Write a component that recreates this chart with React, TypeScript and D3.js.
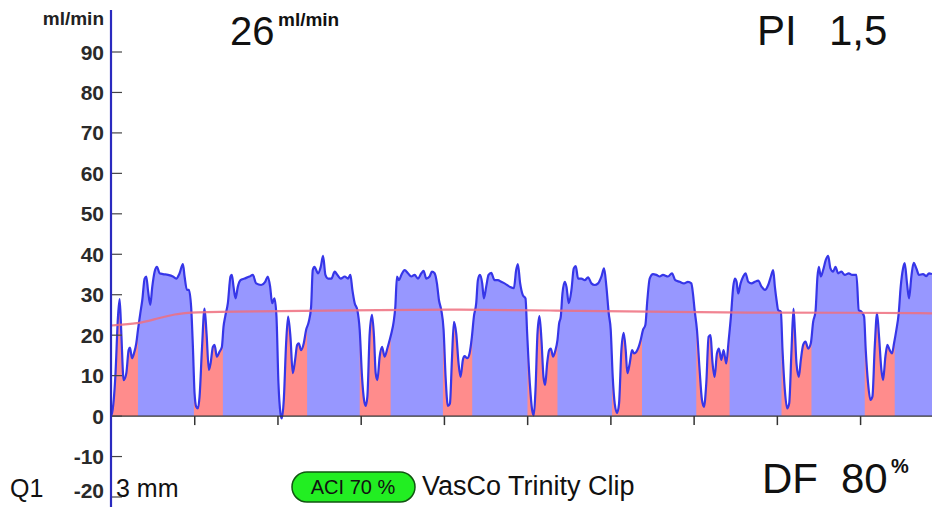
import * as d3 from "d3";
import React from "react";

// flow samples: [time ms, ml/min]
const flowSeries: [number, number][] = [
  [0, 0.3], [3, 0.7], [23, 9.7], [39, 24.6], [49, 28.9], [59, 20.4], [73, 8.9], [89, 10.6], [103, 16.3], [111, 16.9],
  [123, 14.3], [135, 15.5], [149, 18.0], [159, 21.3], [173, 25.4], [185, 28.7], [199, 34.0], [209, 34.5], [219, 31.2],
  [233, 27.5], [245, 32.0], [259, 35.7], [273, 36.9], [289, 35.3], [309, 35.1], [339, 34.9], [369, 34.5], [389, 34.0],
  [409, 35.3], [429, 37.6], [439, 34.5], [453, 31.2], [465, 31.2], [479, 26.6], [489, 17.1], [499, 5.6], [509, 2.3],
  [519, 1.9], [529, 4.8], [543, 16.3], [559, 26.6], [571, 20.4], [585, 11.4], [595, 13.0], [609, 17.1], [619, 17.6],
  [633, 14.7], [649, 15.9], [663, 17.1], [673, 22.1], [683, 24.6], [699, 27.9], [715, 34.5], [723, 34.9], [733, 32.0],
  [745, 29.1], [759, 32.0], [775, 33.6], [799, 34.0], [829, 34.5], [849, 34.9], [869, 32.8], [899, 32.4], [923, 33.2],
  [939, 34.5], [953, 32.0], [965, 27.9], [979, 29.1], [991, 24.6], [1003, 8.1], [1015, 0.7], [1023, -0.6], [1035, 4.0],
  [1049, 18.0], [1061, 24.6], [1075, 19.6], [1089, 10.6], [1103, 13.9], [1115, 17.6], [1125, 18.0], [1139, 16.3],
  [1155, 18.0], [1169, 21.3], [1185, 23.3], [1199, 27.0], [1209, 36.1], [1219, 36.9], [1241, 35.3], [1257, 36.9],
  [1271, 39.6], [1285, 34.9], [1301, 34.0], [1321, 34.0], [1341, 35.7], [1357, 34.9], [1377, 34.0], [1401, 34.5],
  [1421, 34.0], [1435, 34.9], [1447, 31.2], [1461, 27.9], [1477, 26.2], [1491, 21.3], [1505, 9.7], [1517, 4.0],
  [1527, 2.5], [1537, 4.8], [1551, 20.4], [1565, 25.0], [1577, 19.6], [1587, 10.6], [1597, 8.9], [1611, 14.7],
  [1625, 17.1], [1641, 14.7], [1657, 16.7], [1671, 18.8], [1681, 20.4], [1695, 23.3], [1705, 27.0], [1715, 34.5],
  [1727, 33.6], [1741, 34.9], [1761, 36.1], [1781, 35.3], [1801, 34.5], [1821, 34.9], [1841, 34.0], [1861, 35.3],
  [1875, 35.9], [1891, 34.0], [1911, 34.5], [1925, 35.7], [1941, 35.3], [1955, 32.8], [1967, 28.7], [1981, 26.2],
  [1995, 21.3], [2007, 9.7], [2021, 2.5], [2033, 3.1], [2045, 13.9], [2057, 23.3], [2071, 20.4], [2085, 13.0],
  [2097, 9.7], [2111, 13.9], [2121, 14.8], [2137, 14.3], [2151, 15.5], [2165, 19.6], [2177, 24.6], [2191, 27.9],
  [2201, 33.6], [2213, 34.9], [2227, 32.8], [2237, 29.1], [2251, 32.0], [2265, 34.9], [2281, 35.4], [2301, 33.6],
  [2321, 33.6], [2341, 33.2], [2361, 32.8], [2391, 32.0], [2417, 31.6], [2431, 36.1], [2441, 37.6], [2455, 32.8],
  [2471, 29.9], [2487, 29.1], [2497, 20.4], [2513, 8.1], [2527, 1.5], [2537, 0.2], [2547, 6.4], [2559, 20.4],
  [2571, 24.7], [2583, 18.8], [2595, 9.7], [2605, 7.7], [2617, 13.0], [2629, 16.3], [2639, 16.7], [2653, 14.7],
  [2667, 16.3], [2679, 18.8], [2689, 22.9], [2699, 24.6], [2709, 30.3], [2723, 33.2], [2733, 32.0], [2747, 27.9],
  [2763, 31.2], [2777, 36.5], [2789, 37.1], [2803, 34.0], [2823, 34.0], [2843, 33.6], [2863, 34.3], [2883, 32.8],
  [2903, 32.4], [2923, 32.8], [2943, 34.5], [2959, 36.5], [2973, 32.0], [2987, 25.4], [2999, 21.3], [3011, 9.7],
  [3023, 3.1], [3037, 0.8], [3049, 3.1], [3063, 16.3], [3077, 20.6], [3089, 16.3], [3099, 10.6], [3113, 13.0],
  [3127, 16.3], [3139, 15.5], [3153, 15.9], [3167, 17.1], [3179, 18.8], [3193, 21.3], [3207, 22.5], [3219, 28.7],
  [3233, 34.0], [3253, 35.1], [3273, 34.9], [3293, 34.5], [3313, 34.9], [3343, 34.5], [3367, 35.3], [3387, 33.6],
  [3413, 33.2], [3439, 32.8], [3463, 33.2], [3483, 32.8], [3493, 30.3], [3503, 26.2], [3517, 21.3], [3533, 11.4],
  [3547, 4.0], [3559, 2.3], [3573, 8.1], [3587, 19.6], [3599, 20.0], [3609, 13.9], [3623, 9.7], [3637, 15.5],
  [3649, 16.7], [3663, 13.9], [3677, 16.3], [3693, 13.0], [3707, 18.5], [3721, 24.6], [3735, 32.0], [3745, 34.0],
  [3755, 33.2], [3765, 30.3], [3779, 32.8], [3795, 34.5], [3809, 35.3], [3825, 33.2], [3845, 32.8], [3865, 33.2],
  [3885, 33.5], [3905, 32.0], [3925, 31.2], [3945, 32.4], [3961, 34.5], [3975, 36.1], [3985, 32.0], [3995, 28.7],
  [4005, 26.2], [4021, 25.8], [4031, 16.3], [4045, 6.4], [4059, 1.9], [4071, 3.1], [4085, 16.3], [4097, 26.6],
  [4105, 21.3], [4115, 13.0], [4129, 9.7], [4141, 13.9], [4155, 17.6], [4169, 18.4], [4185, 16.7], [4201, 18.0],
  [4215, 23.3], [4229, 25.8], [4241, 34.5], [4249, 36.9], [4261, 34.5], [4275, 36.1], [4291, 38.6], [4305, 39.6],
  [4319, 36.5], [4335, 35.7], [4349, 36.9], [4365, 35.3], [4385, 35.7], [4405, 34.9], [4429, 35.3], [4449, 34.9],
  [4475, 34.9], [4489, 26.2], [4505, 25.8], [4521, 24.6], [4531, 16.3], [4545, 8.1], [4559, 4.0], [4571, 4.8],
  [4585, 17.1], [4599, 25.4], [4611, 19.6], [4625, 11.4], [4635, 8.9], [4649, 14.7], [4661, 17.6], [4675, 16.3],
  [4689, 15.5], [4701, 18.0], [4715, 21.3], [4729, 25.4], [4741, 32.0], [4755, 36.5], [4765, 37.8], [4779, 32.8],
  [4791, 29.1], [4805, 34.5], [4819, 37.9], [4835, 36.5], [4851, 34.9], [4875, 35.1], [4895, 34.6], [4911, 35.3],
  [4929, 35.1],
];

// running mean (pink line)
const meanSeries: [number, number][] = [
  [0, 22.4], [159, 22.8], [279, 24.2], [381, 25.2], [477, 25.7], [831, 25.9], [1431, 26.1], [2031, 26.4],
  [2631, 26.1], [3231, 25.8], [3831, 25.5], [4431, 25.6], [4929, 25.4],
];

// early-phase segments drawn in red [start ms, end ms]
const redIntervals: [number, number][] = [
  [0, 159], [495, 669], [1019, 1175], [1491, 1677], [1991, 2167],
  [2499, 2679], [3007, 3187], [3513, 3713], [4025, 4205], [4525, 4705],
];

const yTickValues = [-20, -10, 0, 10, 20, 30, 40, 50, 60, 70, 80, 90];
const xTickTimes = [500, 1000, 1500, 2000, 2500, 3000, 3500, 4000, 4500];

const W = 932;
const H = 507;
const font = "'Liberation Sans', Arial, sans-serif";

export default function App() {
  const x = d3.scaleLinear([0, 4929], [111.5, 932]);
  const y = d3.scaleLinear([-20, 90], [497, 52]);

  const area = d3
    .area<[number, number]>()
    .x((d) => x(d[0]))
    .y0(y(0))
    .y1((d) => y(d[1]))
    .curve(d3.curveMonotoneX);
  const line = d3
    .line<[number, number]>()
    .x((d) => x(d[0]))
    .y((d) => y(d[1]))
    .curve(d3.curveMonotoneX);
  const meanLine = d3
    .line<[number, number]>()
    .x((d) => x(d[0]))
    .y((d) => y(d[1]))
    .curve(d3.curveBasis);

  const axisX = x(0) - 0.5;

  return (
    <svg
      width={W}
      height={H}
      style={{ position: "absolute", left: 0, top: 0, background: "#fff" }}
      fontFamily={font}
    >
      <defs>
        <clipPath id="redClip">
          {redIntervals.map(([a, b], i) => (
            <rect key={i} x={x(a)} y={0} width={x(b) - x(a)} height={H} />
          ))}
        </clipPath>
      </defs>

      <path d={area(flowSeries) || ""} fill="#9797ff" />
      <path d={area(flowSeries) || ""} fill="#ff8c8c" clipPath="url(#redClip)" />
      <path d={line(flowSeries) || ""} fill="none" stroke="#3636e8" strokeWidth={2.2} strokeLinejoin="round" />
      <path d={meanLine(meanSeries) || ""} fill="none" stroke="#ee6f7f" strokeWidth={2.2} strokeOpacity={0.85} />

      {/* zero line + time ticks */}
      <line x1={axisX} x2={W} y1={y(0)} y2={y(0)} stroke="#333" strokeWidth={1.2} />
      {xTickTimes.map((t) => (
        <line key={t} x1={x(t)} x2={x(t)} y1={y(0)} y2={y(0) + 9} stroke="#333" strokeWidth={1.5} />
      ))}

      {/* y axis */}
      {yTickValues.map((v) => (
        <g key={v}>
          <line x1={axisX} x2={axisX + 11} y1={y(v)} y2={y(v)} stroke="#444" strokeWidth={1.2} />
          <text x={104} y={Math.min(y(v), 490)} dy="0.36em" textAnchor="end" fontSize={21} fontWeight="bold" fill="#2a2a2a">
            {v}
          </text>
        </g>
      ))}
      <line x1={axisX} x2={axisX} y1={10} y2={H} stroke="#2a2abf" strokeWidth={2.2} />
      <text x={104} y={25} textAnchor="end" fontSize={19} fontWeight="bold" fill="#222">
        ml/min
      </text>

      {/* header values */}
      <text x={230} y={45} fontSize={40} fill="#111">
        26
        <tspan x={278} y={26} fontSize={19} fontWeight="bold">ml/min</tspan>
      </text>
      <text x={757} y={45} fontSize={42} fill="#111">PI</text>
      <text x={829} y={45} fontSize={42} fill="#111">1,5</text>

      {/* footer */}
      <text x={10} y={497} fontSize={25} fill="#111">Q1</text>
      <text x={116} y={497} fontSize={25} fill="#111">3 mm</text>
      <rect x={292} y={472} width={123} height={30} rx={15} fill="#22ee22" stroke="#115511" strokeWidth={1.5} />
      <text x={353} y={494} textAnchor="middle" fontSize={20} fontFamily="'Liberation Sans Narrow', 'Liberation Sans', sans-serif" fill="#111">
        ACI 70 %
      </text>
      <text x={422} y={495} fontSize={27} fill="#111">VasCo Trinity Clip</text>
      <text x={762} y={493} fontSize={42} fill="#111">DF</text>
      <text x={841} y={493} fontSize={42} fill="#111">80</text>
      <text x={891} y={473} fontSize={20} fontWeight="bold" fill="#111">%</text>
    </svg>
  );
}
